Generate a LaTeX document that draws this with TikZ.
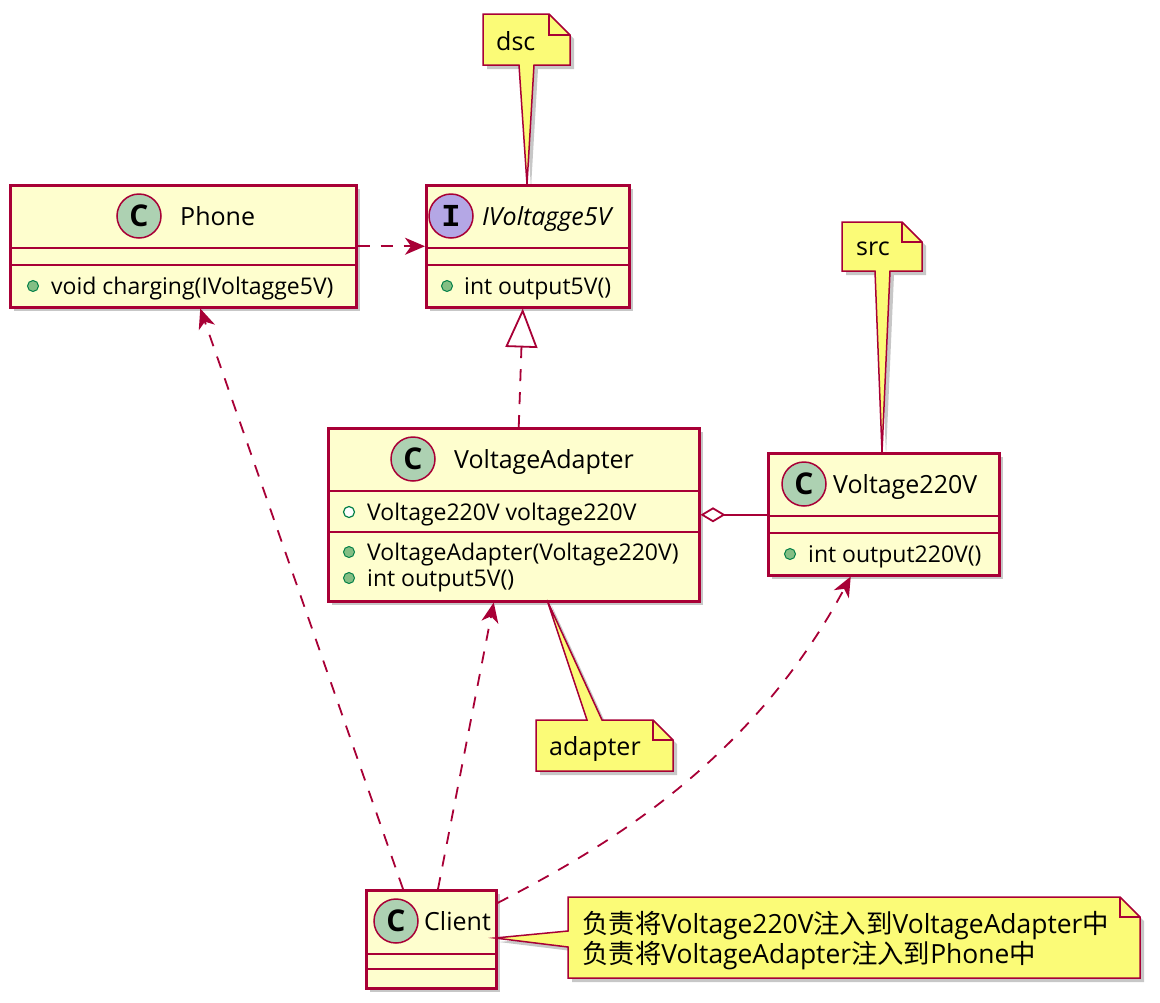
\documentclass[tikz,border=0pt]{standalone}
\usepackage{fontspec}
\setmainfont{Open Sans}
\setmonofont{Liberation Mono}
\newfontfamily\cjk{Noto Sans CJK SC}
\usetikzlibrary{arrows.meta,shadows,calc}
\definecolor{umlborder}{HTML}{A80036}
\definecolor{umlfill}{HTML}{FEFECE}
\definecolor{notefill}{HTML}{FBFB77}
\definecolor{circC}{HTML}{ADD1B2}
\definecolor{circI}{HTML}{B4A7E5}
\definecolor{pubfill}{HTML}{84BE84}
\definecolor{pubdraw}{HTML}{038048}
\newcommand{\Cglyph}{{\fontsize{30}{30}\selectfont\bfseries C}}
\newcommand{\Iglyph}{{\ttfamily\bfseries\fontsize{32}{32}\selectfont I}}
\begin{document}
\begin{tikzpicture}[x=1pt,y=-1pt,
  shadowed/.style={drop shadow={shadow xshift=4pt,shadow yshift=-4pt,fill=black,opacity=0.22}},
  classbox/.style={rectangle,draw=umlborder,line width=2.5pt,fill=umlfill,shadowed,inner sep=0pt,anchor=north west},
  sepline/.style={draw=umlborder,line width=2.5pt},
  clsname/.style={font=\fontsize{25}{30}\selectfont,inner sep=0pt,anchor=base west},
  member/.style={font=\fontsize{23}{28}\selectfont,inner sep=0pt,anchor=base west},
  badge/.style={circle,draw=umlborder,line width=1.5pt,minimum size=44pt,inner sep=0pt},
  pub/.style={circle,fill=pubfill,draw=pubdraw,line width=1pt,minimum size=11pt,inner sep=0pt},
  pubfield/.style={circle,fill=white,draw=pubdraw,line width=1.2pt,minimum size=11pt,inner sep=0pt},
  notebox/.style={draw=umlborder,fill=notefill,line width=1.5pt,shadowed,line join=miter},
  notefold/.style={draw=umlborder,line width=1.5pt},
  notetext/.style={font=\fontsize{25}{30}\selectfont,inner sep=0pt,anchor=base west},
  conn/.style={draw=umlborder,line width=1.8pt},
  dashedconn/.style={conn,dash pattern=on 12pt off 11pt},
  dep/.style={dashedconn,-{Stealth[length=20pt,width=17pt,inset=6pt]}}
]
\useasboundingbox (0,0) rectangle (1160,1002);

% ---------- notes dsc / src ----------
\draw[notebox] (483,14) -- (549,14) -- (570,35) -- (570,65) -- (534,65) -- (527,184) -- (519,65) -- (483,65) -- cycle;
\draw[notefold] (549,14) -- (549,35) -- (570,35);
\node[notetext] (dscT) at (496,50) {dsc};

\draw[notebox] (842,222) -- (902,222) -- (922,242) -- (922,271) -- (890,271) -- (882,452) -- (875,271) -- (842,271) -- cycle;
\draw[notefold] (902,222) -- (902,242) -- (922,242);
\node[notetext] (srcT) at (856,255) {src};

% ---------- Phone ----------
\node[classbox,minimum width=346pt,minimum height=122pt] (phone) at (9,184) {};
\draw[sepline] (9,248) -- (355,248);
\draw[sepline] (9,265) -- (355,265);
\node[badge,fill=circC] (phoneC) at (139,216) {\Cglyph};
\node[clsname] (phoneN) at (180,225) {Phone};
\node[pub] (phoneD1) at (33,286) {};
\node[member] (phoneM1) at (51,294) {void charging(IVoltagge5V)};

% ---------- IVoltagge5V ----------
\node[classbox,minimum width=203pt,minimum height=122pt] (ivolt) at (425,184) {};
\draw[sepline] (425,248) -- (628,248);
\draw[sepline] (425,265) -- (628,265);
\node[badge,fill=circI] (ivoltI) at (451,216) {\Iglyph};
\node[clsname,font=\fontsize{25}{30}\selectfont\itshape] (ivoltN) at (482,225) {IVoltagge5V};
\node[pub] (ivoltD1) at (447,286) {};
\node[member] (ivoltM1) at (464,294) {int output5V()};

% ---------- VoltageAdapter ----------
\node[classbox,minimum width=371pt,minimum height=173pt] (adapter) at (327,427) {};
\draw[sepline] (327,491) -- (698,491);
\draw[sepline] (327,532) -- (698,532);
\node[badge,fill=circC] (adapterC) at (413,459) {\Cglyph};
\node[clsname] (adapterN) at (454,468) {VoltageAdapter};
\node[pubfield] (adapterF1) at (349,512) {};
\node[member] (adapterA1) at (367,520) {Voltage220V voltage220V};
\node[pub] (adapterD1) at (349,552) {};
\node[member] (adapterM1) at (367,560) {VoltageAdapter(Voltage220V)};
\node[pub] (adapterD2) at (349,578) {};
\node[member] (adapterM2) at (367,586) {int output5V()};

% ---------- Voltage220V ----------
\node[classbox,minimum width=231pt,minimum height=122pt] (v220) at (767,452) {};
\draw[sepline] (767,516) -- (998,516);
\draw[sepline] (767,533) -- (998,533);
\node[badge,fill=circC] (v220C) at (804,484) {\Cglyph};
\node[clsname] (v220N) at (833,493) {Voltage220V};
\node[pub] (v220D1) at (790,554) {};
\node[member] (v220M1) at (808,562) {int output220V()};

% ---------- adapter note ----------
\draw[notebox] (536,720) -- (587,720) -- (547,600) -- (602,720) -- (653,720) -- (673,740) -- (673,771) -- (536,771) -- cycle;
\draw[notefold] (653,720) -- (653,740) -- (673,740);
\node[notetext] (adapterT) at (549,755) {adapter};

% ---------- Client ----------
\node[classbox,minimum width=130pt,minimum height=98pt] (client) at (365,889) {};
\draw[sepline] (365,954) -- (495,954);
\draw[sepline] (365,969) -- (495,969);
\node[badge,fill=circC] (clientC) at (396,921) {\Cglyph};
\node[clsname] (clientN) at (424,930) {Client};

% ---------- client note ----------
\draw[notebox] (568,897) -- (1120,897) -- (1140,917) -- (1140,978) -- (568,978) -- (568,947) -- (495,938) -- (568,931) -- cycle;
\draw[notefold] (1120,897) -- (1120,917) -- (1140,917);
\node[notetext,font=\fontsize{26.4}{30}\selectfont] (clientT1) at (582,933) {{\cjk 负责将}Voltage220V{\cjk 注入到}VoltageAdapter{\cjk 中}};
\node[notetext,font=\fontsize{26.4}{30}\selectfont] (clientT2) at (582,963) {{\cjk 负责将}VoltageAdapter{\cjk 注入到}Phone{\cjk 中}};

% ---------- connectors ----------
\draw[dep] (phone.east) -- (ivolt.west);
\draw[dashedconn,-{Triangle[length=39pt,width=32pt,fill=white]}]
  ($(adapter.north)+(5,0)$) -- ($(ivolt.south)+(-5,0)$);
\draw[conn,{Diamond[length=25pt,width=15pt,fill=white]}-] (adapter.east) -- (adapter.east -| v220.west);
\draw[dep] ($(client.north west)+(38,0)$) -- ($(phone.south)+(17,0)$);
\draw[dep] ($(client.north west)+(73,0)$) -- ($(adapter.south)+(-20,0)$);
\draw[dep] ($(client.north east)+(0,14)$) .. controls (600,850) and (750,765) .. ($(v220.south)+(-33,0)$);
\end{tikzpicture}
\end{document}
